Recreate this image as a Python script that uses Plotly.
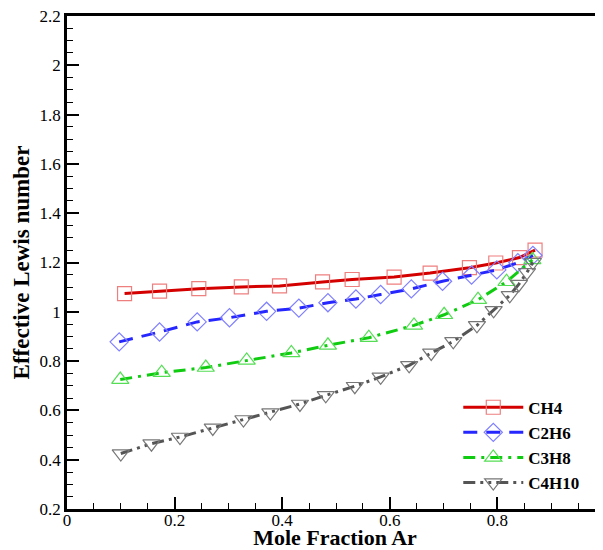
import plotly.graph_objects as go

# ---- data ----
ch4_x = [0.107, 0.172, 0.245, 0.324, 0.395, 0.475, 0.530, 0.608, 0.675, 0.748, 0.797, 0.841, 0.870]
ch4_y = [1.074, 1.084, 1.094, 1.101, 1.105, 1.121, 1.131, 1.141, 1.157, 1.179, 1.198, 1.220, 1.250]

c2h6_x = [0.097, 0.172, 0.242, 0.302, 0.371, 0.431, 0.485, 0.537, 0.583, 0.640, 0.698, 0.752, 0.799, 0.838, 0.866]
c2h6_y = [0.878, 0.918, 0.959, 0.976, 1.002, 1.015, 1.037, 1.052, 1.070, 1.093, 1.124, 1.149, 1.170, 1.199, 1.229]

c3h8_x = [0.099, 0.176, 0.258, 0.334, 0.417, 0.485, 0.561, 0.645, 0.701, 0.764, 0.817, 0.865]
c3h8_y = [0.725, 0.753, 0.774, 0.803, 0.833, 0.864, 0.895, 0.945, 0.988, 1.049, 1.122, 1.211]

c4h10_x = [0.100, 0.157, 0.210, 0.271, 0.328, 0.378, 0.433, 0.481, 0.535, 0.583, 0.636, 0.677,
           0.718, 0.762, 0.793, 0.823, 0.840, 0.855, 0.866]
c4h10_y = [0.425, 0.465, 0.492, 0.529, 0.563, 0.591, 0.626, 0.661, 0.698, 0.736, 0.783, 0.833,
           0.880, 0.945, 1.006, 1.067, 1.112, 1.160, 1.201]

series_names = ["CH4", "C2H6", "C3H8", "C4H10"]
x_ticks = [0, 0.2, 0.4, 0.6, 0.8]
x_labels = ["0", "0.2", "0.4", "0.6", "0.8"]
y_ticks = [0.2, 0.4, 0.6, 0.8, 1.0, 1.2, 1.4, 1.6, 1.8, 2.0, 2.2]
y_labels = ["0.2", "0.4", "0.6", "0.8", "1", "1.2", "1.4", "1.6", "1.8", "2", "2.2"]

SERIF = "Liberation Serif"

styles = [
    dict(line=dict(color="#d40000", width=3, dash="solid"),
         marker=dict(symbol="square-open", size=14, color="#ee7f7f", line=dict(width=1.2))),
    dict(line=dict(color="#2626ff", width=3, dash="14px,9px"),
         marker=dict(symbol="diamond-open", size=14, color="#7f7fff", line=dict(width=1.2))),
    dict(line=dict(color="#10cc10", width=3, dash="12px,6px,3px,6px"),
         marker=dict(symbol="triangle-up-open", size=15, color="#55dd55", line=dict(width=1.2))),
    dict(line=dict(color="#555555", width=3, dash="12px,5px,3px,5px,3px,5px"),
         marker=dict(symbol="triangle-down-open", size=15, color="#777777", line=dict(width=1.2))),
]

data = [(ch4_x, ch4_y), (c2h6_x, c2h6_y), (c3h8_x, c3h8_y), (c4h10_x, c4h10_y)]

fig = go.Figure()
for name, (xs, ys), st in zip(series_names, data, styles):
    fig.add_trace(go.Scatter(x=xs, y=ys, name=name, mode="lines+markers",
                             line=st["line"], marker=st["marker"]))

axis_common = dict(
    showline=True, linecolor="black", linewidth=2.5, mirror=True,
    ticks="inside", ticklen=12, tickwidth=2, tickcolor="black",
    showgrid=False, zeroline=False, ticklabeloverflow="allow", automargin=False,
    tickfont=dict(family=SERIF, size=17, color="black"),
)

# The page body adds an 8px offset, so the figure is sized to fit inside the window.
fig.update_layout(
    width=595, height=542,
    margin=dict(l=59, r=0, t=8, b=41),
    paper_bgcolor="white", plot_bgcolor="white",
    font=dict(family=SERIF, color="black"),
    xaxis=dict(range=[0, 0.9963], tickvals=x_ticks, ticktext=x_labels,
               minor=dict(dtick=0.05, ticks="inside", ticklen=6, tickwidth=1.3, tickcolor="black"),
               ticklabelstandoff=-6,
               title=dict(text="Mole Fraction Ar",
                          font=dict(family=SERIF, size=22, color="black", weight="bold"),
                          standoff=8),
               **axis_common),
    yaxis=dict(range=[0.2, 2.2], tickvals=y_ticks, ticktext=y_labels,
               minor=dict(dtick=0.05, ticks="inside", ticklen=6, tickwidth=1.3, tickcolor="black"),
               title=dict(text="Effective Lewis number",
                          font=dict(family=SERIF, size=23, color="black", weight="bold"),
                          standoff=4),
               **axis_common),
    legend=dict(x=0.73, y=0.242, xanchor="left", yanchor="top",
                bgcolor="rgba(0,0,0,0)", borderwidth=0,
                font=dict(family=SERIF, size=17, color="black", weight="bold"),
                tracegroupgap=0, itemwidth=60),
    showlegend=True,
)

fig.write_html("out.html")
